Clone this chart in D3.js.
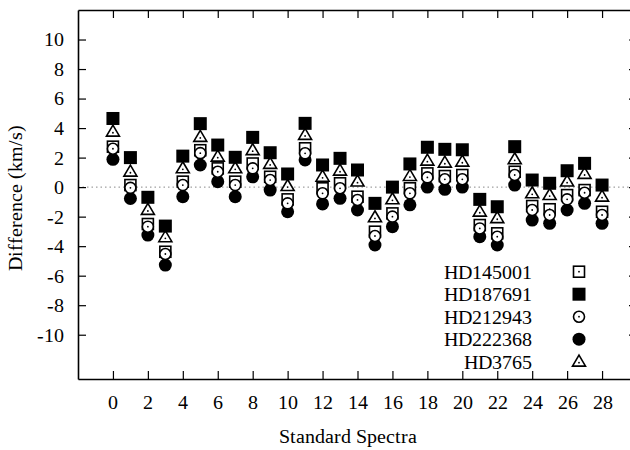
<!DOCTYPE html>
<html><head><meta charset="utf-8">
<script src="https://cdn.jsdelivr.net/npm/d3@7"></script>
<style>
@font-face{font-family:"ChartSerif";src:local("Liberation Serif"),local("LiberationSerif"),local("LiberationSerif-Regular");}
</style>
</head>
<body style="margin:0;background:#fff"><svg id="c" width="630" height="450" style="display:block"></svg>
<script>
const categories = d3.range(0, 29);
const seriesNames = ["HD145001","HD187691","HD212943","HD222368","HD3765"];
const HD145001 = [2.74,0.14,-2.5,-4.38,0.37,2.5,1.27,0.37,1.6,0.7,-0.83,2.63,-0.08,0.26,-0.65,-3.02,-1.78,-0.08,0.93,0.75,0.82,-2.57,-3.13,1.04,-1.28,-1.5,-0.54,-0.2,-1.67];
const HD187691 = [4.65,2.0,-0.69,-2.64,2.1,4.3,2.85,2.02,3.37,2.33,0.89,4.32,1.5,1.95,1.16,-1.1,0.0,1.57,2.7,2.56,2.53,-0.83,-1.33,2.74,0.48,0.26,1.11,1.61,0.14];
const HD212943 = [2.6,-0.05,-2.68,-4.53,0.14,2.3,1.04,0.14,1.27,0.48,-1.1,2.29,-0.42,-0.08,-0.87,-3.31,-2.0,-0.42,0.66,0.53,0.53,-2.8,-3.36,0.82,-1.55,-1.89,-0.83,-0.38,-1.89];
const HD222368 = [1.88,-0.77,-3.25,-5.28,-0.65,1.5,0.37,-0.65,0.7,-0.2,-1.67,1.84,-1.14,-0.76,-1.55,-3.92,-2.68,-1.2,0.0,-0.15,0.0,-3.36,-3.92,0.14,-2.23,-2.45,-1.55,-1.1,-2.45];
const HD3765 = [3.75,1.04,-1.55,-3.4,1.27,3.4,2.06,1.27,2.5,1.57,0.07,3.53,0.7,1.11,0.37,-2.05,-0.83,0.75,1.79,1.65,1.72,-1.67,-2.11,1.88,-0.42,-0.54,0.37,0.89,-0.65];
const xTicks = d3.range(0, 29, 2);
const yTicks = [-10,-8,-6,-4,-2,0,2,4,6,8,10];
const xLabel = "Standard Spectra";
const yLabel = "Difference (km/s)";

const FONT = '"ChartSerif", "Liberation Serif", "Times New Roman", serif';
const seriesData = {HD145001, HD187691, HD212943, HD222368, HD3765};
const markers = {HD145001:"osq", HD187691:"fsq", HD212943:"oci", HD222368:"fci", HD3765:"tri"};
const drawOrder = ["HD222368","HD145001","HD212943","HD3765","HD187691"];
const fmt = d => String(d); // hyphen-minus as in the reference

const svg = d3.select("#c").attr("font-family", FONT);
const x = d3.scaleLinear().domain([-2, 30]).range([78, 637]);
const y = d3.scaleLinear().domain([-13, 12]).range([379, 10]);
const serif = sel => sel.attr("font-family", FONT);

svg.append("line").attr("x1", x(-2)).attr("x2", x(30)).attr("y1", y(0)).attr("y2", y(0))
  .attr("stroke", "#888").attr("stroke-width", 1).attr("stroke-dasharray", "1.5,3");

const ax = (g) => g.call(serif)
  .call(s => s.select(".domain").attr("stroke-width", 1.6))
  .call(s => s.selectAll(".tick line").attr("stroke-width", 1.2))
  .call(s => s.selectAll("text").attr("font-size", 20).attr("fill", "#000").call(serif));
svg.append("g").attr("transform", `translate(0,${y(-13)})`)
  .call(d3.axisBottom(x).tickValues(xTicks).tickFormat(fmt).tickSizeInner(-8).tickSizeOuter(0).tickPadding(16))
  .call(ax);
svg.append("g").attr("transform", `translate(0,${y(12)})`)
  .call(d3.axisTop(x).tickValues(xTicks).tickSizeInner(-8).tickSizeOuter(0).tickFormat(""))
  .call(ax);
svg.append("g").attr("transform", `translate(${x(-2)},0)`)
  .call(d3.axisLeft(y).tickValues(yTicks).tickFormat(fmt).tickSizeInner(-8).tickSizeOuter(0).tickPadding(14))
  .call(ax);
svg.append("g").attr("transform", `translate(${x(30)},0)`)
  .call(d3.axisRight(y).tickValues(yTicks).tickSizeInner(-8).tickSizeOuter(0).tickFormat(""))
  .call(ax);

svg.append("text").attr("x", 348).attr("y", 443).attr("text-anchor", "middle")
  .attr("font-size", 20).call(serif).text(xLabel);
svg.append("text").attr("transform", "translate(22,198) rotate(-90)").attr("text-anchor", "middle")
  .attr("font-size", 20).call(serif).text(yLabel);

function drawMarker(g, type, cx, cy) {
  if (type === "fsq") {
    g.append("rect").attr("x", cx-6.5).attr("y", cy-6.5).attr("width", 13).attr("height", 13).attr("fill", "#000");
  } else if (type === "osq") {
    g.append("rect").attr("x", cx-5.5).attr("y", cy-5.5).attr("width", 11).attr("height", 11)
      .attr("fill", "#fff").attr("stroke", "#000").attr("stroke-width", 1.6);
    g.append("circle").attr("cx", cx).attr("cy", cy).attr("r", 0.9).attr("fill", "#000");
  } else if (type === "oci") {
    g.append("circle").attr("cx", cx).attr("cy", cy).attr("r", 5.5)
      .attr("fill", "#fff").attr("stroke", "#000").attr("stroke-width", 1.6);
    g.append("circle").attr("cx", cx).attr("cy", cy).attr("r", 0.9).attr("fill", "#000");
  } else if (type === "fci") {
    g.append("circle").attr("cx", cx).attr("cy", cy).attr("r", 6.5).attr("fill", "#000");
  } else if (type === "tri") {
    const h = 11, w = 13;
    g.append("path").attr("d", `M${cx},${cy-h*0.6}L${cx+w/2},${cy+h*0.4}L${cx-w/2},${cy+h*0.4}Z`)
      .attr("fill", "#fff").attr("stroke", "#000").attr("stroke-width", 1.6);
    g.append("circle").attr("cx", cx).attr("cy", cy+1).attr("r", 0.9).attr("fill", "#000");
  }
}

const plot = svg.append("g");
drawOrder.forEach(name => {
  const g = plot.append("g").attr("class", name);
  seriesData[name].forEach((v, i) => drawMarker(g, markers[name], x(categories[i]), y(v)));
});

const leg = svg.append("g");
seriesNames.forEach((name, i) => {
  const ly = 271.7 + i * 22.5;
  leg.append("text").attr("x", 532).attr("y", ly).attr("dy", "0.35em").attr("text-anchor", "end")
    .attr("font-size", 20).call(serif).text(name);
  drawMarker(leg, markers[name], 579, ly);
});
</script></body></html>
